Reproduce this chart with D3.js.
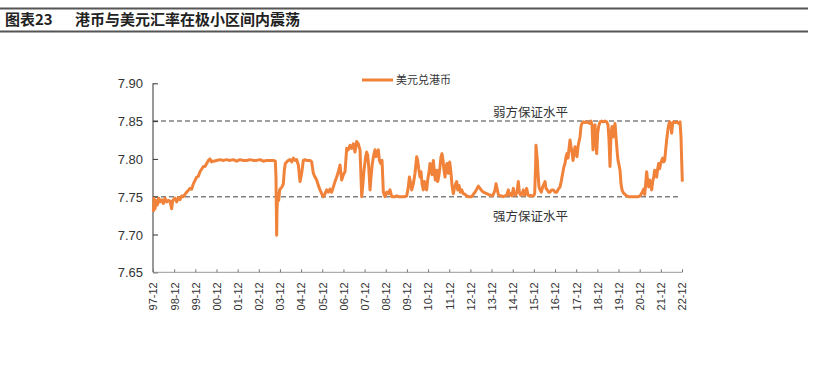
<!DOCTYPE html>
<html>
<head>
<meta charset="utf-8">
<script src="https://cdn.jsdelivr.net/npm/d3@7"></script>
<style>
  body { margin: 0; background: #fff; }
  svg { display: block; }
</style>
</head>
<body>
<svg id="chart" width="822" height="366"></svg>
<script>
// 标题
const figNo = '图表23'
const figTitle = '港币与美元汇率在极小区间内震荡'
const seriesName = '美元兑港币'

// 坐标轴
const xTickLabels = ['97-12', '98-12', '99-12', '00-12', '01-12', '02-12', '03-12', '04-12', '05-12',
  '06-12', '07-12', '08-12', '09-12', '10-12', '11-12', '12-12', '13-12', '14-12', '15-12', '16-12',
  '17-12', '18-12', '19-12', '20-12', '21-12', '22-12']
const yTicks = [7.65, 7.70, 7.75, 7.80, 7.85, 7.90]

// 联系汇率保证水平
const bandValues = [7.85, 7.75]
const bandLabels = ['弱方保证水平', '强方保证水平']

// 汇率（按年份小数读取）
const years = [
  1997.933, 1997.964, 1998.011, 1998.059, 1998.122, 1998.185, 1998.248, 1998.326, 1998.405, 1998.484,
  1998.563, 1998.641, 1998.720, 1998.799, 1998.846, 1998.956, 1999.035, 1999.114, 1999.193, 1999.271,
  1999.350, 1999.508, 1999.665, 1999.744, 1999.823, 1999.980, 2000.059, 2000.138, 2000.295, 2000.374,
  2000.453, 2000.532, 2000.611, 2000.689, 2000.768, 2000.926, 2001.083, 2001.241, 2001.398, 2001.556,
  2001.713, 2001.871, 2002.028, 2002.186, 2002.343, 2002.501, 2002.658, 2002.816, 2002.973, 2003.131,
  2003.288, 2003.446, 2003.603, 2003.698, 2003.729, 2003.745, 2003.761, 2003.777, 2003.808, 2003.856,
  2003.903, 2003.950, 2004.013, 2004.076, 2004.123, 2004.171, 2004.234, 2004.313, 2004.391, 2004.470,
  2004.549, 2004.628, 2004.706, 2004.785, 2004.864, 2004.943, 2005.021, 2005.100, 2005.179, 2005.336,
  2005.415, 2005.494, 2005.573, 2005.651, 2005.730, 2005.809, 2005.888, 2005.967, 2006.045, 2006.124,
  2006.203, 2006.282,
  2006.361, 2006.440, 2006.519, 2006.597, 2006.676, 2006.755, 2006.834, 2006.912, 2006.991, 2007.070,
  2007.149, 2007.227, 2007.306, 2007.385, 2007.464, 2007.543, 2007.621, 2007.700, 2007.747, 2007.779,
  2007.826, 2007.889, 2007.968, 2008.015, 2008.062, 2008.110, 2008.173, 2008.220, 2008.283, 2008.346,
  2008.409, 2008.456, 2008.519, 2008.566, 2008.614, 2008.677, 2008.740, 2008.803, 2008.882, 2008.960,
  2009.039, 2009.118, 2009.197, 2009.275, 2009.354, 2009.433, 2009.512, 2009.590, 2009.669, 2009.748,
  2009.827, 2009.906, 2009.984, 2010.032, 2010.079, 2010.142, 2010.221, 2010.299, 2010.378, 2010.425,
  2010.473, 2010.535, 2010.583, 2010.630, 2010.693, 2010.740, 2010.803, 2010.851, 2010.898, 2010.961,
  2011.008, 2011.055, 2011.103, 2011.166, 2011.213, 2011.260, 2011.323, 2011.370, 2011.418, 2011.481,
  2011.528, 2011.575, 2011.623, 2011.670, 2011.717, 2011.764, 2011.812, 2011.875, 2011.938, 2012.001,
  2012.048, 2012.111, 2012.158, 2012.221, 2012.268, 2012.316, 2012.379, 2012.442, 2012.505, 2012.583,
  2012.662, 2012.741, 2012.820, 2012.898, 2012.977, 2013.056, 2013.135, 2013.214, 2013.292, 2013.371,
  2013.450, 2013.529, 2013.607, 2013.686, 2013.765, 2013.844, 2013.922, 2014.001, 2014.080, 2014.127,
  2014.175, 2014.237, 2014.316, 2014.395, 2014.474,
  2014.552, 2014.631, 2014.710, 2014.757, 2014.820, 2014.883, 2014.946, 2014.993, 2015.056, 2015.119,
  2015.182, 2015.230, 2015.293, 2015.356, 2015.419, 2015.466, 2015.529, 2015.576, 2015.639, 2015.702,
  2015.765, 2015.828, 2015.891, 2015.954, 2016.002, 2016.017, 2016.049, 2016.080, 2016.112, 2016.159,
  2016.206, 2016.269, 2016.332, 2016.395, 2016.443, 2016.490, 2016.553, 2016.616, 2016.679, 2016.758,
  2016.836, 2016.915, 2016.994, 2017.073, 2017.152, 2017.215, 2017.278, 2017.340, 2017.388, 2017.435,
  2017.482, 2017.530, 2017.577, 2017.624, 2017.671, 2017.719, 2017.766, 2017.813, 2017.860, 2017.908,
  2017.955, 2018.002, 2018.049, 2018.097, 2018.144, 2018.191, 2018.254, 2018.333, 2018.412, 2018.490,
  2018.569, 2018.616, 2018.664, 2018.711, 2018.758, 2018.806, 2018.853, 2018.884, 2018.932, 2018.979,
  2019.042, 2019.121, 2019.199, 2019.278, 2019.357, 2019.420, 2019.467, 2019.514, 2019.562, 2019.609,
  2019.656, 2019.703, 2019.751, 2019.798, 2019.845, 2019.892, 2019.940, 2019.987, 2020.034, 2020.082,
  2020.145, 2020.223, 2020.302, 2020.381, 2020.460, 2020.538, 2020.617, 2020.696, 2020.775, 2020.853,
  2020.932, 2020.995, 2021.043, 2021.106, 2021.153, 2021.200, 2021.247, 2021.295, 2021.342, 2021.389,
  2021.436, 2021.484, 2021.531, 2021.578, 2021.625, 2021.673, 2021.720, 2021.767, 2021.814, 2021.862,
  2021.909, 2021.956, 2022.003, 2022.051, 2022.098, 2022.145, 2022.192, 2022.240, 2022.287, 2022.334,
  2022.381, 2022.429, 2022.476, 2022.523, 2022.586, 2022.665, 2022.744, 2022.823, 2022.870, 2022.901,
  2022.933,
]
const rates = [
  7.730, 7.748, 7.734, 7.745, 7.739, 7.748, 7.743, 7.746, 7.741, 7.748,
  7.743, 7.745, 7.744, 7.734, 7.745, 7.748, 7.743, 7.749, 7.746, 7.751,
  7.750, 7.756, 7.761, 7.760, 7.767, 7.776, 7.777, 7.783, 7.790, 7.790,
  7.794, 7.798, 7.800, 7.796, 7.797, 7.798, 7.799, 7.798, 7.799, 7.798,
  7.799, 7.797, 7.799, 7.798, 7.798, 7.799, 7.798, 7.798, 7.799, 7.797,
  7.798, 7.798, 7.798, 7.797, 7.776, 7.737, 7.699, 7.732, 7.754, 7.745,
  7.759, 7.761, 7.763, 7.767, 7.785, 7.794, 7.796, 7.798, 7.799, 7.796,
  7.801, 7.798, 7.799, 7.792, 7.770, 7.781, 7.798, 7.799, 7.798, 7.798,
  7.796, 7.781, 7.776, 7.772, 7.765, 7.759, 7.754, 7.750, 7.754, 7.759,
  7.756, 7.760,
  7.756, 7.763, 7.770, 7.776, 7.783, 7.792, 7.772, 7.779, 7.783, 7.814,
  7.812, 7.818, 7.814, 7.820, 7.809, 7.823, 7.820, 7.812, 7.776, 7.750,
  7.763, 7.785, 7.803, 7.809, 7.805, 7.790, 7.759, 7.776, 7.794, 7.805,
  7.812, 7.803, 7.809, 7.812, 7.798, 7.794, 7.798, 7.756, 7.750, 7.756,
  7.754, 7.759, 7.750, 7.750, 7.750, 7.751, 7.750, 7.750, 7.750, 7.750,
  7.750, 7.751, 7.763, 7.776, 7.770, 7.759, 7.767, 7.781, 7.803, 7.798,
  7.787, 7.776, 7.783, 7.767, 7.759, 7.770, 7.765, 7.759, 7.772, 7.783,
  7.794, 7.785, 7.779, 7.798, 7.783, 7.772, 7.785, 7.770, 7.776, 7.790,
  7.803, 7.807, 7.798, 7.785, 7.776, 7.790, 7.794, 7.781, 7.796, 7.781,
  7.765, 7.754, 7.761, 7.767, 7.770, 7.759, 7.765, 7.756, 7.759, 7.754,
  7.753, 7.751, 7.750, 7.750, 7.750, 7.753, 7.756, 7.760, 7.764, 7.761,
  7.758, 7.756, 7.755, 7.754, 7.753, 7.752, 7.751, 7.753, 7.759, 7.767,
  7.761, 7.753, 7.751, 7.751, 7.750,
  7.751, 7.752, 7.759, 7.752, 7.754, 7.751, 7.761, 7.754, 7.752, 7.756,
  7.770, 7.756, 7.752, 7.754, 7.759, 7.752, 7.754, 7.761, 7.752, 7.751,
  7.752, 7.751, 7.751, 7.754, 7.794, 7.818, 7.807, 7.798, 7.781, 7.763,
  7.759, 7.756, 7.763, 7.767, 7.770, 7.761, 7.759, 7.756, 7.756, 7.759,
  7.759, 7.756, 7.756, 7.760, 7.763, 7.771, 7.781, 7.790, 7.794, 7.803,
  7.807, 7.801, 7.814, 7.825, 7.816, 7.809, 7.798, 7.807, 7.816, 7.809,
  7.803, 7.816, 7.823, 7.829, 7.843, 7.847, 7.849, 7.848, 7.849, 7.848,
  7.847, 7.850, 7.845, 7.812, 7.840, 7.845, 7.820, 7.807, 7.834, 7.843,
  7.849, 7.850, 7.849, 7.850, 7.849, 7.845, 7.825, 7.790, 7.834, 7.843,
  7.829, 7.838, 7.847, 7.829, 7.812, 7.798, 7.792, 7.785, 7.767, 7.759,
  7.755, 7.753, 7.751, 7.750, 7.750, 7.750, 7.750, 7.750, 7.750, 7.750,
  7.751, 7.754, 7.756, 7.760, 7.753, 7.767, 7.783, 7.770, 7.763, 7.772,
  7.765, 7.759, 7.770, 7.776, 7.785, 7.779, 7.776, 7.787, 7.794, 7.787,
  7.794, 7.798, 7.801, 7.796, 7.798, 7.812, 7.825, 7.836, 7.845, 7.849,
  7.847, 7.834, 7.847, 7.849, 7.848, 7.849, 7.847, 7.849, 7.829, 7.798,
  7.770,
]

const svg = d3.select('#chart')
const fontLatin = '"Liberation Sans", Arial, "Noto Sans CJK SC", sans-serif'
const fontCJK = '"Noto Sans CJK SC", "Liberation Sans", sans-serif'
const lineColor = '#F0823A'

// 标题栏
svg.append('line').attr('x1', 0).attr('x2', 808).attr('y1', 8.5).attr('y2', 8.5)
  .attr('stroke', '#555').attr('stroke-width', 2)
svg.append('line').attr('x1', 0).attr('x2', 808).attr('y1', 31.5).attr('y2', 31.5)
  .attr('stroke', '#555').attr('stroke-width', 2)
const titleText = svg.append('text').attr('x', 5).attr('y', 25)
  .attr('font-family', fontCJK).attr('font-size', 15).attr('font-weight', 'bold').attr('fill', '#222')
titleText.append('tspan').text(figNo)
titleText.append('tspan').attr('x', 75).text(figTitle)

// 比例尺
const xTickYears = xTickLabels.map((s) => {
  const yy = +s.slice(0, 2)
  return (yy > 50 ? 1900 : 2000) + yy + 11 / 12
})
const x = d3.scaleLinear().domain([xTickYears[0], xTickYears[xTickYears.length - 1]]).range([153, 682])
const y = d3.scaleLinear().domain([7.65, 7.90]).range([272.3, 83.3])

// 保证水平虚线
bandValues.forEach((v, i) => {
  svg.append('line')
    .attr('x1', x.range()[0]).attr('x2', 680)
    .attr('y1', y(v)).attr('y2', y(v))
    .attr('stroke', '#808080').attr('stroke-width', 1.5).attr('stroke-dasharray', '5,3')
  svg.append('text')
    .attr('x', 493)
    .attr('y', i === 0 ? y(v) - 4 : y(v) + 24)
    .attr('font-family', fontCJK).attr('font-size', 12.5).attr('fill', '#333')
    .text(bandLabels[i])
})

// Y 轴
const yAxis = svg.append('g').attr('transform', `translate(${x.range()[0]},0)`)
  .call(d3.axisRight(y).tickValues(yTicks).tickSize(5).tickFormat(d3.format('.2f')))
yAxis.select('.domain').attr('stroke', '#333').attr('d', `M0,${y(7.90)}V${y(7.65)}`)
yAxis.selectAll('.tick line').attr('stroke', '#333')
yAxis.selectAll('.tick text')
  .attr('x', -10).attr('text-anchor', 'end').attr('dy', '0.35em')
  .attr('font-family', fontLatin).attr('font-size', 13).attr('fill', '#333')

// X 轴
const xAxis = svg.append('g').attr('transform', `translate(0,${y(7.65)})`)
  .call(d3.axisTop(x).tickValues(xTickYears).tickSize(3).tickFormat((d, i) => xTickLabels[i]))
xAxis.select('.domain').attr('stroke', '#999').attr('d', `M${x.range()[0]},0H${x.range()[1]}`)
xAxis.selectAll('.tick line').attr('stroke', '#777')
xAxis.selectAll('.tick text')
  .attr('transform', 'rotate(-90)')
  .attr('x', -10).attr('y', 0).attr('dy', '0.35em')
  .attr('text-anchor', 'end')
  .attr('font-family', fontLatin).attr('font-size', 11).attr('fill', '#333')

// 折线
const points = years.map((t, i) => [t, rates[i]])
svg.append('path')
  .datum(points)
  .attr('fill', 'none')
  .attr('stroke', lineColor)
  .attr('stroke-width', 3)
  .attr('stroke-linejoin', 'round')
  .attr('d', d3.line().x((d) => x(d[0])).y((d) => y(d[1])))

// 图例
svg.append('line').attr('x1', 362).attr('x2', 393).attr('y1', 80).attr('y2', 80)
  .attr('stroke', lineColor).attr('stroke-width', 3)
svg.append('text').attr('x', 396).attr('y', 84)
  .attr('font-family', fontCJK).attr('font-size', 11).attr('fill', '#333')
  .text(seriesName)
</script>
</body>
</html>
